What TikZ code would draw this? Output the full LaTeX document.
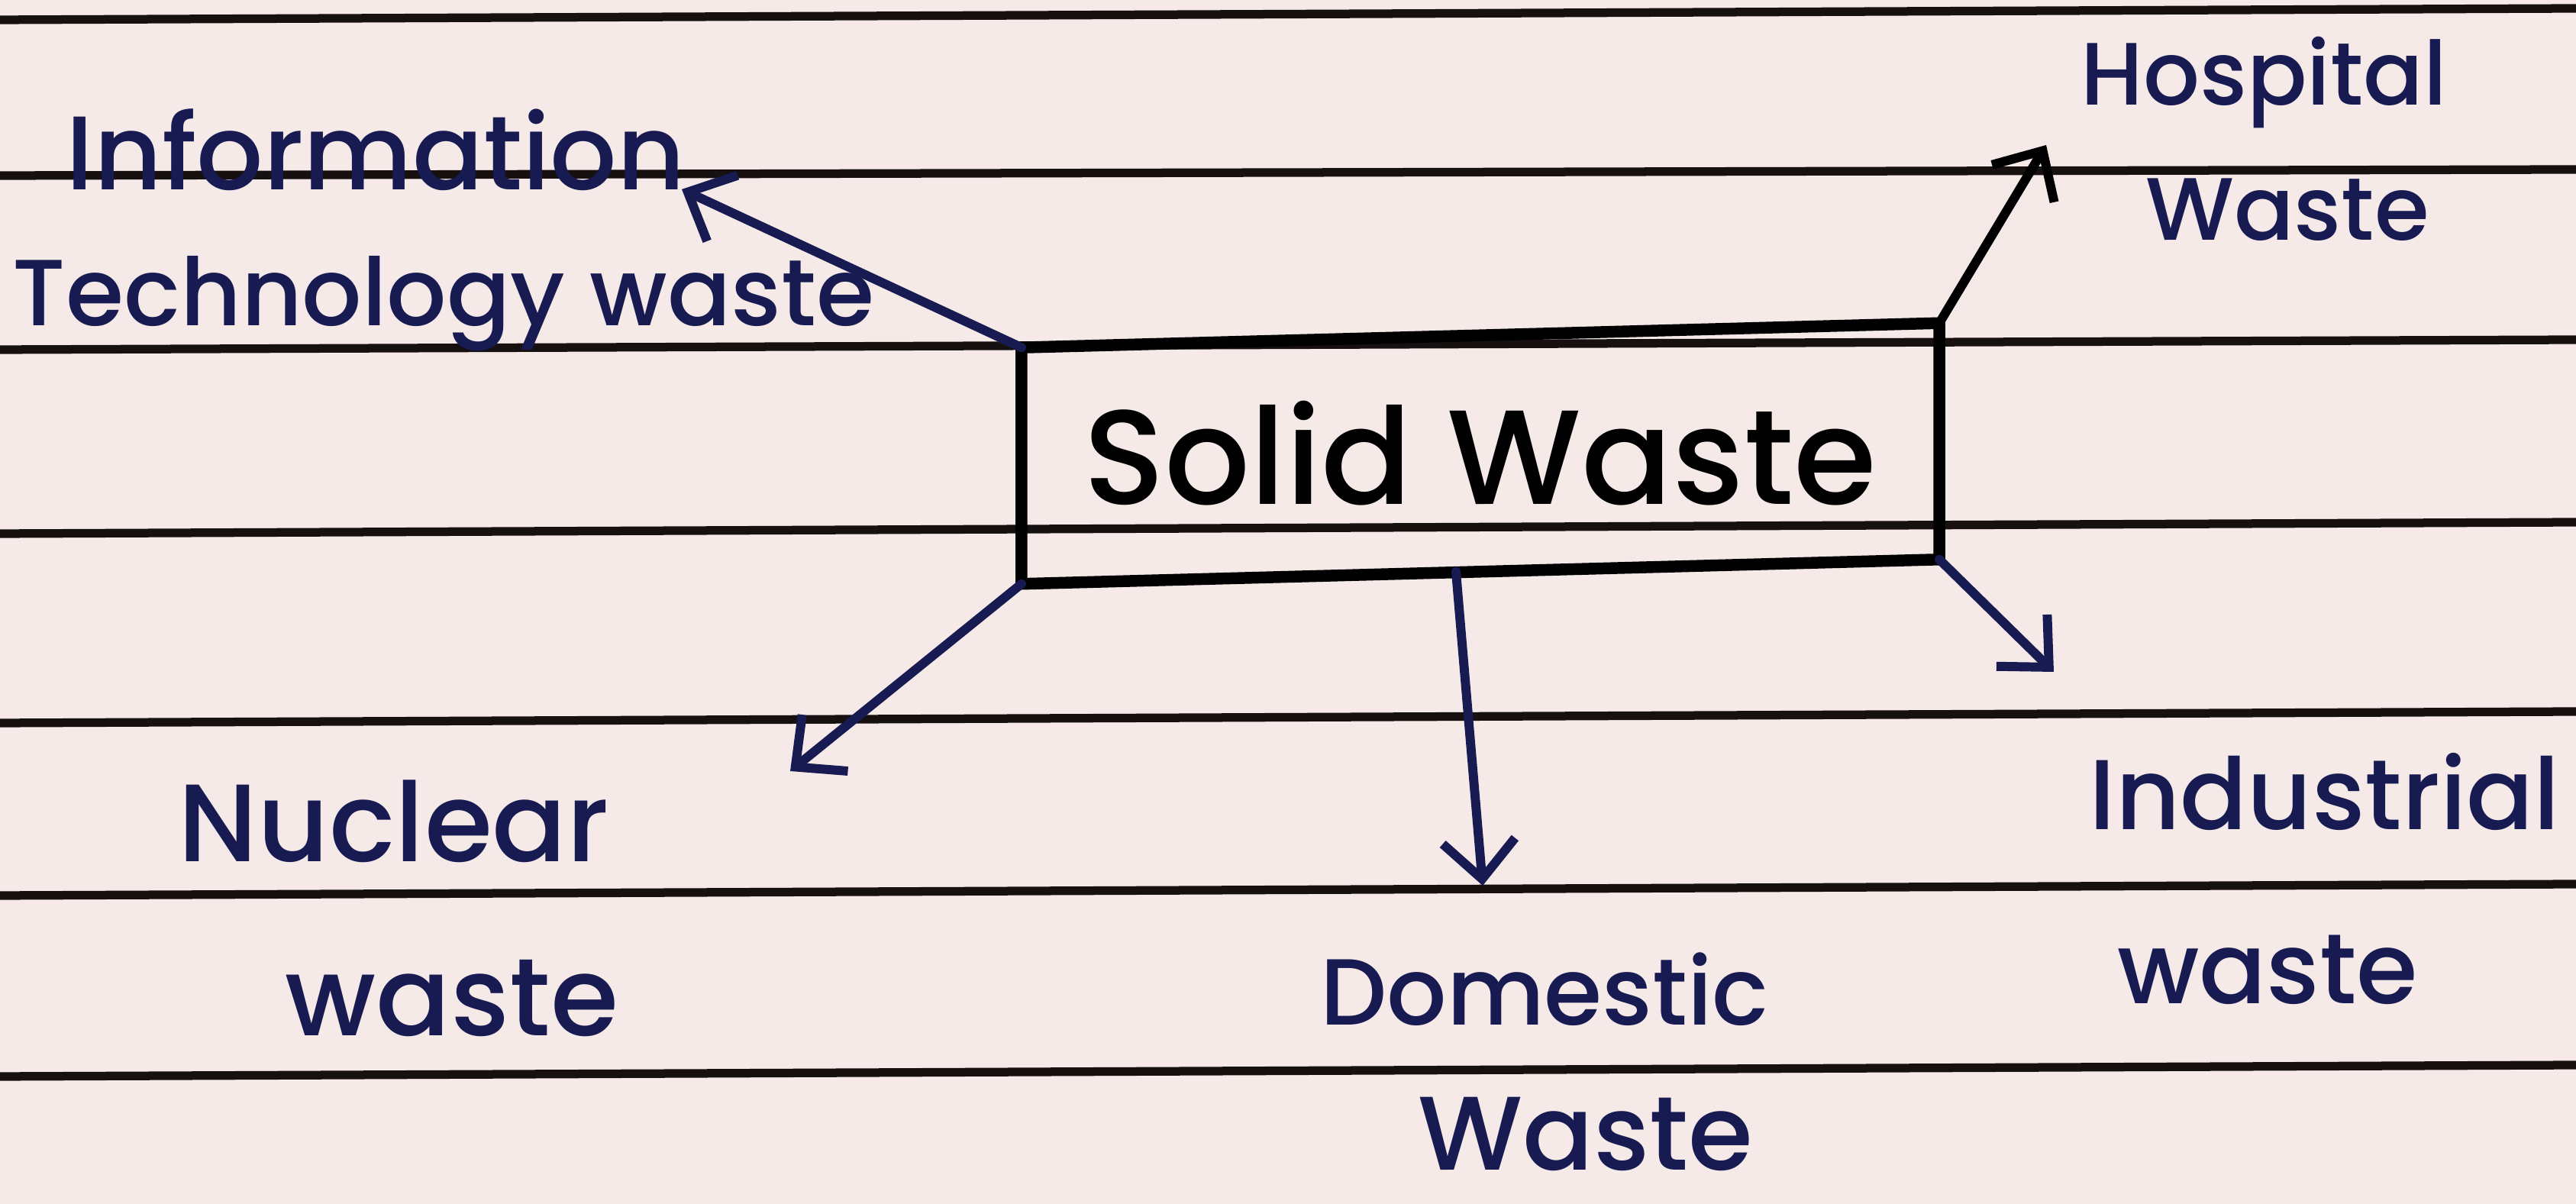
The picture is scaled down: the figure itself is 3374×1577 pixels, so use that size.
\documentclass[tikz,border=0pt]{standalone}
\usepackage{fontspec}
\setmainfont{Poppins}[BoldFont={Poppins Medium}]
\usetikzlibrary{arrows.meta,calc}
\definecolor{paper}{HTML}{F5EAE7}
\definecolor{ruling}{HTML}{161010}
\definecolor{ink}{HTML}{171B52}
\tikzset{
  ruleline/.style={draw=ruling, line width=3.2pt},
  mainbox/.style={draw=none, minimum width=12cm, minimum height=3.08cm, inner sep=0pt, font=\bfseries\fontsize{50}{52}\selectfont, text=black},
  boxline/.style={draw=black, line width=4.4pt, line join=round},
  lab/.style={inner sep=0pt, text=ink, font=\bfseries\fontsize{37}{40}\selectfont},
  arr/.style={draw=ink, line width=3.4pt, line cap=round, -{Straight Barb[length=0.5cm, width=0.95cm, line width=3.4pt]}}
}
\begin{document}
\begin{tikzpicture}[x=0.01cm, y=-0.01cm]
\fill[paper] (0,0) rectangle (3374,1577);
\useasboundingbox (0,0) rectangle (3374,1577);
% ruled lines
\draw[ruleline] (0,26) -- (3374,11);
\draw[ruleline] (0,230) -- (3374,222);
\draw[ruleline] (0,458) -- (3374,445);
\draw[ruleline] (0,699) -- (3374,684);
\draw[ruleline] (0,947) -- (3374,932);
\draw[ruleline] (0,1173) -- (3374,1158);
\draw[ruleline] (0,1410) -- (3374,1395);
% central box
\node[mainbox] (box) at (1939,594) {Solid Waste};
\coordinate (btl) at ($(box.north west)+(0,16)$);
\coordinate (btr) at ($(box.north east)+(0,-16)$);
\coordinate (bbr) at ($(box.south east)+(0,-16)$);
\coordinate (bbl) at ($(box.south west)+(0,16)$);
\coordinate (bbm) at ($(box.south)+(-32,0)$);
\draw[boxline] (btl) -- (btr) -- (bbr) -- (bbl) -- cycle;
% labels
\node[lab, font=\bfseries\fontsize{39}{42}\selectfont] (info) at (492,196) {Information};
\node[lab, font=\bfseries\fontsize{35}{37}\selectfont] (tech) at (581,398) {Technology waste};
\node[lab, font=\bfseries\fontsize{33}{36}\selectfont] (hosp) at (2965,108) {Hospital};
\node[lab, font=\bfseries\fontsize{33}{36}\selectfont] (hospw) at (2996,275) {Waste};
\node[lab, font=\bfseries\fontsize{41}{44}\selectfont] (nuc) at (516,1076) {Nuclear};
\node[lab, font=\bfseries\fontsize{41}{44}\selectfont] (nucw) at (592,1308) {waste};
\node[lab, font=\bfseries\fontsize{35}{38}\selectfont] (dom) at (2023,1296) {Domestic};
\node[lab, font=\bfseries\fontsize{39}{42}\selectfont] (domw) at (2077,1485) {Waste};
\node[lab, font=\bfseries\fontsize{37}{40}\selectfont] (ind) at (3045,1037) {Industrial};
\node[lab, font=\bfseries\fontsize{37}{40}\selectfont] (indw) at (2970,1270) {waste};
% arrow ends
\coordinate (itend) at (893,248);
\coordinate (hospend) at (2680,190);
\coordinate (nucend) at (1035,1010);
\coordinate (domend) at (1942,1160);
\coordinate (indend) at (2690,880);
% arrows
\draw[arr] (btl) -- (itend);
\draw[arr, draw=black] (btr) -- (hospend);
\draw[arr] (bbl) -- (nucend);
\draw[arr] (bbm) -- (domend);
\draw[arr] (bbr) -- (indend);
\end{tikzpicture}
\end{document}
